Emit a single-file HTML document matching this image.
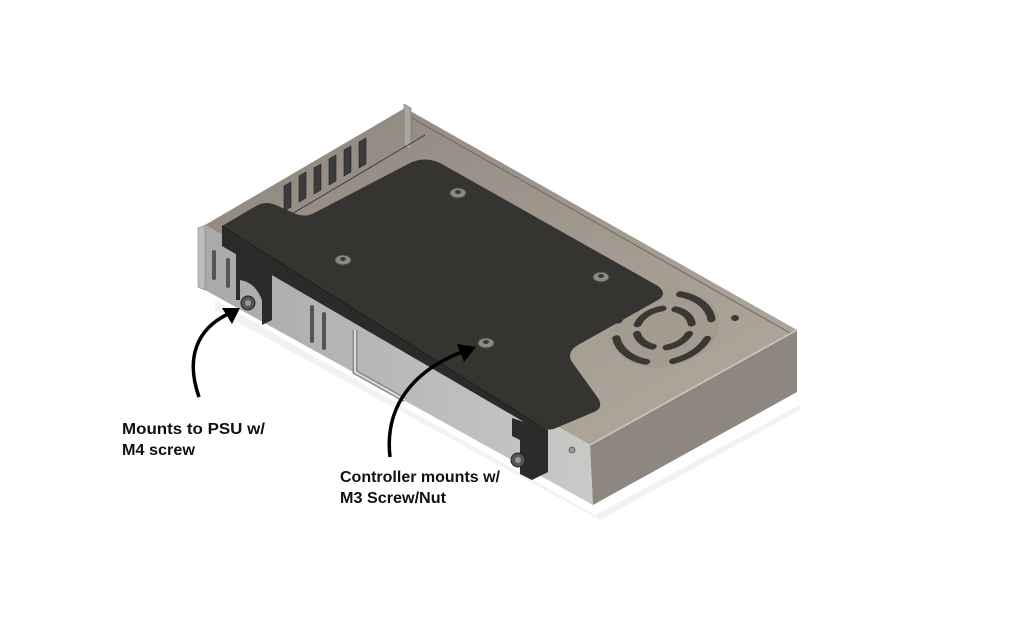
<!DOCTYPE html>
<html><head><meta charset="utf-8"><style>
html,body{margin:0;padding:0;background:#fff;width:1024px;height:642px;overflow:hidden}
svg{display:block}
text{font-family:"Liberation Sans",sans-serif;font-weight:bold;font-size:16px;fill:#111}
</style></head><body>
<svg width="1024" height="642" viewBox="0 0 1024 642">
<defs>
<linearGradient id="top" x1="0" y1="0" x2="1" y2="1">
<stop offset="0" stop-color="#8e867c"/><stop offset="1" stop-color="#b3aba0"/></linearGradient>
<linearGradient id="front" x1="0" y1="0" x2="1" y2="0">
<stop offset="0" stop-color="#a9a9a9"/><stop offset="1" stop-color="#c9c9c7"/></linearGradient>
</defs>
<polygon points="215,300 595,515 800,405 800,410 600,520 215,310" fill="#f2f2f2"/>
<polygon points="405,108 797,330 590,445 205,225" fill="url(#top)"/>
<polyline points="412,118 790,333" stroke="#6e675f" stroke-width="1" fill="none"/>
<polygon points="404,104 411,108 411,150 404,146" fill="#aaa59d" stroke="#777" stroke-width="0.6"/>
<g fill="#3c3c3c" stroke="#222" stroke-width="0.6">
<polygon points="284,186 291,182 291,207 284,211"/>
<polygon points="299,176 306,172 306,198 299,202"/>
<polygon points="314,168 321,164 321,190 314,194"/>
<polygon points="329,159 336,155 336,181 329,185"/>
<polygon points="344,150 351,146 351,172 344,176"/>
<polygon points="359,142 366,138 366,164 359,168"/>
</g>
<polyline points="290,215 425,135" stroke="#333" stroke-width="0.8" fill="none"/>
<g transform="translate(664,328) skewX(-10) scale(1,0.72)">
<circle r="55" fill="#a39b90"/>
<g fill="none" stroke="#3a3835" stroke-width="8" stroke-linecap="round">
<path d="M-47,-10 A48,48 0 0 1 -15,-45"/>
<path d="M10,-47 A48,48 0 0 1 46,-12"/>
<path d="M45,15 A48,48 0 0 1 15,46"/>
<path d="M-12,47 A48,48 0 0 1 -46,14"/>
<path d="M-27,-5 A28,28 0 0 1 -5,-27"/>
<path d="M8,-26 A28,28 0 0 1 27,-6"/>
<path d="M26,8 A28,28 0 0 1 6,27"/>
<path d="M-8,26 A28,28 0 0 1 -26,8"/>
</g></g>
<ellipse cx="735" cy="318" rx="4" ry="3" fill="#3a3835"/>
<polygon points="205,225 590,445 593,505 205,290" fill="url(#front)"/>
<polygon points="198,228 205,225 205,290 198,287" fill="#bdbdbd" stroke="#888" stroke-width="0.6"/>
<g fill="#555"><rect x="212" y="250" width="4" height="30" rx="2"/><rect x="226" y="258" width="4" height="30" rx="2"/>
<rect x="310" y="305" width="4" height="38" rx="2"/><rect x="322" y="312" width="4" height="38" rx="2"/></g>
<path d="M355,330 L355,372 L405,400" stroke="#888" stroke-width="5" fill="none"/>
<path d="M355,330 L355,372 L405,400" stroke="#ddd" stroke-width="2" fill="none"/>
<polygon points="590,445 797,330 797,392 593,505" fill="#8e877f"/>
<polyline points="590,445 797,330" stroke="#cfc9c1" stroke-width="1.5" fill="none"/>
<circle cx="572" cy="450" r="3" fill="#999" stroke="#555" stroke-width="0.8"/>
<path d="M222,226 L545,412 L548,436 L222,246 Z" fill="#2a2a28"/>
<path d="M236,236 L272,254 L272,320 L262,325 L262,300 Q255,282 240,280 L240,300 L236,300 Z" fill="#2b2b29"/>
<path d="M512,418 L548,430 L548,472 L532,480 L520,474 L520,440 L512,436 Z" fill="#2b2b29"/>
<circle cx="248" cy="303" r="7" fill="#555" stroke="#222"/><circle cx="248" cy="303" r="3" fill="#999"/>
<circle cx="518" cy="460" r="7" fill="#555" stroke="#222"/><circle cx="518" cy="460" r="3" fill="#999"/>
<path d="M222,226 L256,206 Q266,200 278,206 L296,214 Q306,218 316,212 L410,163 Q425,156 440,163 L658,286 Q668,294 658,300 L578,345 Q566,352 572,362 L598,398 Q604,408 594,412 L556,428 Q548,432 540,426 Z" fill="#353431"/>
<path d="M222,226 L540,426" stroke="#1e1e1c" stroke-width="1" fill="none"/>
<g fill="#8c8a86" stroke="#4a4946" stroke-width="1">
<ellipse cx="458" cy="193" rx="8" ry="5"/><ellipse cx="343" cy="260" rx="8" ry="5"/>
<ellipse cx="601" cy="277" rx="8" ry="5"/><ellipse cx="486" cy="343" rx="8" ry="5"/></g>
<g fill="#3a3a38"><ellipse cx="458" cy="192" rx="3" ry="2"/><ellipse cx="343" cy="259" rx="3" ry="2"/>
<ellipse cx="601" cy="276" rx="3" ry="2"/><ellipse cx="486" cy="342" rx="3" ry="2"/></g>
<path d="M199,397 C186,360 195,330 228,314" stroke="#000" stroke-width="3.5" fill="none"/>
<polygon points="240,308 222,308 232,324" fill="#000"/>
<path d="M390,457 C384,405 415,370 462,352" stroke="#000" stroke-width="3.5" fill="none"/>
<polygon points="476,347 457,344 464,362" fill="#000"/>
<text x="122" y="434" textLength="143" lengthAdjust="spacingAndGlyphs">Mounts to PSU w/</text>
<text x="122" y="455" textLength="73" lengthAdjust="spacingAndGlyphs">M4 screw</text>
<text x="340" y="482" textLength="160" lengthAdjust="spacingAndGlyphs">Controller mounts w/</text>
<text x="340" y="503" textLength="106" lengthAdjust="spacingAndGlyphs">M3 Screw/Nut</text>
</svg>
</body></html>
